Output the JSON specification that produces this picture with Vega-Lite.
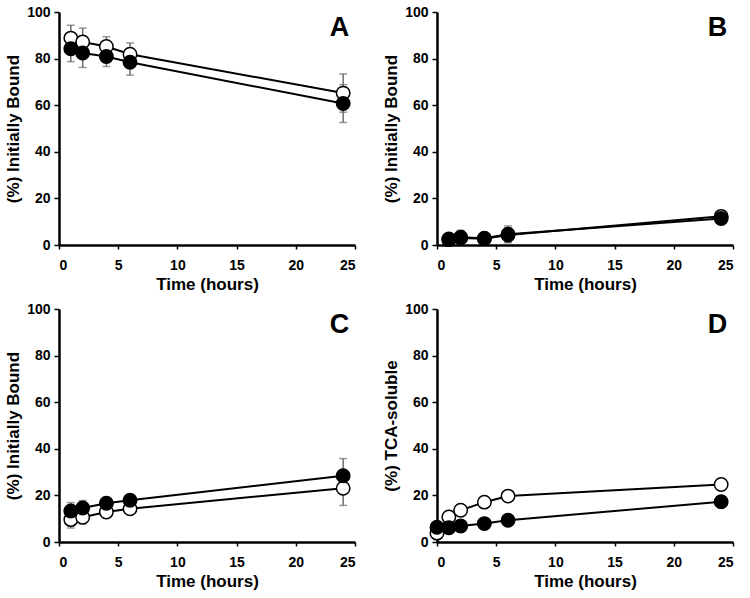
{
  "$schema": "https://vega.github.io/schema/vega-lite/v6.json",
  "padding": {"left": 4, "top": 5, "right": 5, "bottom": 5},
  "background": "white",
  "spacing": 10,
  "config": {
    "font": "Liberation Sans",
    "view": {"stroke": null},
    "axis": {
      "grid": false,
      "domainColor": "black",
      "domainWidth": 2.5,
      "tickColor": "black",
      "tickWidth": 1.5,
      "labelFont": "Liberation Sans",
      "labelFontWeight": "bold",
      "labelFontSize": 14,
      "labelColor": "black",
      "titleFont": "Liberation Sans",
      "titleFontWeight": "bold",
      "titleFontSize": 17,
      "titleColor": "black"
    },
    "axisX": {"tickSize": 4, "labelPadding": 9, "titlePadding": 4},
    "axisY": {"tickSize": 5, "labelPadding": 4, "titlePadding": 4}
  },
  "datasets": {
    "pts": [
      {"panel": "A", "series": "open", "time": 1, "value": 88.8, "err": 5.5},
      {"panel": "A", "series": "open", "time": 2, "value": 87.1, "err": 6},
      {"panel": "A", "series": "open", "time": 4, "value": 85.2, "err": 4.2},
      {"panel": "A", "series": "open", "time": 6, "value": 81.9, "err": 4.8},
      {"panel": "A", "series": "open", "time": 24, "value": 65.2, "err": 8.2},
      {"panel": "A", "series": "filled", "time": 1, "value": 84.2, "err": 5.5},
      {"panel": "A", "series": "filled", "time": 2, "value": 82.4, "err": 6.2},
      {"panel": "A", "series": "filled", "time": 4, "value": 80.9, "err": 4.3},
      {"panel": "A", "series": "filled", "time": 6, "value": 78.4, "err": 5.5},
      {"panel": "A", "series": "filled", "time": 24, "value": 60.7, "err": 8.1},
      {"panel": "B", "series": "open", "time": 1, "value": 2.3, "err": 1},
      {"panel": "B", "series": "open", "time": 2, "value": 3.0, "err": 2.5},
      {"panel": "B", "series": "open", "time": 4, "value": 2.7, "err": 1},
      {"panel": "B", "series": "open", "time": 6, "value": 4.3, "err": 3},
      {"panel": "B", "series": "open", "time": 24, "value": 12.3, "err": 2},
      {"panel": "B", "series": "filled", "time": 1, "value": 2.6, "err": 1},
      {"panel": "B", "series": "filled", "time": 2, "value": 3.3, "err": 3},
      {"panel": "B", "series": "filled", "time": 4, "value": 2.9, "err": 1},
      {"panel": "B", "series": "filled", "time": 6, "value": 4.6, "err": 3.6},
      {"panel": "B", "series": "filled", "time": 24, "value": 11.4, "err": 2.5},
      {"panel": "C", "series": "open", "time": 1, "value": 9.6, "err": 3.6},
      {"panel": "C", "series": "open", "time": 2, "value": 10.6, "err": 2.8},
      {"panel": "C", "series": "open", "time": 4, "value": 12.9, "err": 2},
      {"panel": "C", "series": "open", "time": 6, "value": 14.3, "err": 1.5},
      {"panel": "C", "series": "open", "time": 24, "value": 23.1, "err": 7.4},
      {"panel": "C", "series": "filled", "time": 1, "value": 13.3, "err": 3.6},
      {"panel": "C", "series": "filled", "time": 2, "value": 14.6, "err": 3.2},
      {"panel": "C", "series": "filled", "time": 4, "value": 16.6, "err": 2},
      {"panel": "C", "series": "filled", "time": 6, "value": 17.9, "err": 1.5},
      {"panel": "C", "series": "filled", "time": 24, "value": 28.4, "err": 7.4},
      {"panel": "D", "series": "open", "time": 0, "value": 3.8, "err": 0},
      {"panel": "D", "series": "open", "time": 1, "value": 10.7, "err": 0},
      {"panel": "D", "series": "open", "time": 2, "value": 13.6, "err": 0},
      {"panel": "D", "series": "open", "time": 4, "value": 17.1, "err": 0},
      {"panel": "D", "series": "open", "time": 6, "value": 19.7, "err": 0},
      {"panel": "D", "series": "open", "time": 24, "value": 24.7, "err": 0},
      {"panel": "D", "series": "filled", "time": 0, "value": 6.3, "err": 0},
      {"panel": "D", "series": "filled", "time": 1, "value": 6.1, "err": 0},
      {"panel": "D", "series": "filled", "time": 2, "value": 6.9, "err": 0},
      {"panel": "D", "series": "filled", "time": 4, "value": 7.9, "err": 0},
      {"panel": "D", "series": "filled", "time": 6, "value": 9.3, "err": 0},
      {"panel": "D", "series": "filled", "time": 24, "value": 17.3, "err": 0}
    ]
  },
  "vconcat": [
    {
      "hconcat": [
        {
          "width": 296, "height": 233,
          "data": {"name": "pts"},
          "transform": [{"filter": "datum.panel === 'A'"}],
          "encoding": {
            "x": {"field": "time", "type": "quantitative", "scale": {"domain": [0, 25], "nice": false}, "axis": {"values": [0, 5, 10, 15, 20, 25], "title": "Time (hours)"}},
            "y": {"field": "value", "type": "quantitative", "scale": {"domain": [0, 100], "nice": false}, "axis": {"values": [0, 20, 40, 60, 80, 100], "title": "(%) Initially Bound"}}
          },
          "layer": [
            {"mark": {"type": "errorbar", "color": "#6e6e6e", "thickness": 1.5, "ticks": {"size": 8, "thickness": 1.5, "color": "#6e6e6e"}}, "encoding": {"yError": {"field": "err"}, "detail": {"field": "series"}}},
            {"mark": {"type": "line", "color": "black", "strokeWidth": 2}, "encoding": {"detail": {"field": "series"}}},
            {"mark": {"type": "point", "filled": false, "size": 180, "strokeWidth": 1.5, "stroke": "black", "opacity": 1, "shape": "circle"}, "encoding": {"fill": {"field": "series", "type": "nominal", "scale": {"domain": ["open", "filled"], "range": ["white", "black"]}, "legend": null}}},
            {"transform": [{"filter": "datum.series === 'open' && datum.time === 24"}], "mark": {"type": "text", "fontSize": 27, "fontWeight": "bold", "font": "Liberation Sans", "align": "center", "baseline": "middle", "color": "black"}, "encoding": {"text": {"field": "panel"}, "x": {"datum": 23.7}, "y": {"datum": 93}}}
          ]
        },
        {
          "width": 296, "height": 233,
          "data": {"name": "pts"},
          "transform": [{"filter": "datum.panel === 'B'"}],
          "encoding": {
            "x": {"field": "time", "type": "quantitative", "scale": {"domain": [0, 25], "nice": false}, "axis": {"values": [0, 5, 10, 15, 20, 25], "title": "Time (hours)"}},
            "y": {"field": "value", "type": "quantitative", "scale": {"domain": [0, 100], "nice": false}, "axis": {"values": [0, 20, 40, 60, 80, 100], "title": "(%) Initially Bound"}}
          },
          "layer": [
            {"mark": {"type": "errorbar", "color": "#6e6e6e", "thickness": 1.5, "ticks": {"size": 8, "thickness": 1.5, "color": "#6e6e6e"}}, "encoding": {"yError": {"field": "err"}, "detail": {"field": "series"}}},
            {"mark": {"type": "line", "color": "black", "strokeWidth": 2}, "encoding": {"detail": {"field": "series"}}},
            {"mark": {"type": "point", "filled": false, "size": 180, "strokeWidth": 1.5, "stroke": "black", "opacity": 1, "shape": "circle"}, "encoding": {"fill": {"field": "series", "type": "nominal", "scale": {"domain": ["open", "filled"], "range": ["white", "black"]}, "legend": null}}},
            {"transform": [{"filter": "datum.series === 'open' && datum.time === 24"}], "mark": {"type": "text", "fontSize": 27, "fontWeight": "bold", "font": "Liberation Sans", "align": "center", "baseline": "middle", "color": "black"}, "encoding": {"text": {"field": "panel"}, "x": {"datum": 23.7}, "y": {"datum": 93}}}
          ]
        }
      ],
      "spacing": 26
    },
    {
      "hconcat": [
        {
          "width": 296, "height": 233,
          "data": {"name": "pts"},
          "transform": [{"filter": "datum.panel === 'C'"}],
          "encoding": {
            "x": {"field": "time", "type": "quantitative", "scale": {"domain": [0, 25], "nice": false}, "axis": {"values": [0, 5, 10, 15, 20, 25], "title": "Time (hours)"}},
            "y": {"field": "value", "type": "quantitative", "scale": {"domain": [0, 100], "nice": false}, "axis": {"values": [0, 20, 40, 60, 80, 100], "title": "(%) Initially Bound"}}
          },
          "layer": [
            {"mark": {"type": "errorbar", "color": "#6e6e6e", "thickness": 1.5, "ticks": {"size": 8, "thickness": 1.5, "color": "#6e6e6e"}}, "encoding": {"yError": {"field": "err"}, "detail": {"field": "series"}}},
            {"mark": {"type": "line", "color": "black", "strokeWidth": 2}, "encoding": {"detail": {"field": "series"}}},
            {"mark": {"type": "point", "filled": false, "size": 180, "strokeWidth": 1.5, "stroke": "black", "opacity": 1, "shape": "circle"}, "encoding": {"fill": {"field": "series", "type": "nominal", "scale": {"domain": ["open", "filled"], "range": ["white", "black"]}, "legend": null}}},
            {"transform": [{"filter": "datum.series === 'open' && datum.time === 24"}], "mark": {"type": "text", "fontSize": 27, "fontWeight": "bold", "font": "Liberation Sans", "align": "center", "baseline": "middle", "color": "black"}, "encoding": {"text": {"field": "panel"}, "x": {"datum": 23.7}, "y": {"datum": 93}}}
          ]
        },
        {
          "width": 296, "height": 233,
          "data": {"name": "pts"},
          "transform": [{"filter": "datum.panel === 'D'"}],
          "encoding": {
            "x": {"field": "time", "type": "quantitative", "scale": {"domain": [0, 25], "nice": false}, "axis": {"values": [0, 5, 10, 15, 20, 25], "title": "Time (hours)"}},
            "y": {"field": "value", "type": "quantitative", "scale": {"domain": [0, 100], "nice": false}, "axis": {"values": [0, 20, 40, 60, 80, 100], "title": "(%) TCA-soluble"}}
          },
          "layer": [
            {"mark": {"type": "line", "color": "black", "strokeWidth": 2}, "encoding": {"detail": {"field": "series"}}},
            {"mark": {"type": "point", "filled": false, "size": 180, "strokeWidth": 1.5, "stroke": "black", "opacity": 1, "shape": "circle"}, "encoding": {"fill": {"field": "series", "type": "nominal", "scale": {"domain": ["open", "filled"], "range": ["white", "black"]}, "legend": null}}},
            {"transform": [{"filter": "datum.series === 'open' && datum.time === 24"}], "mark": {"type": "text", "fontSize": 27, "fontWeight": "bold", "font": "Liberation Sans", "align": "center", "baseline": "middle", "color": "black"}, "encoding": {"text": {"field": "panel"}, "x": {"datum": 23.7}, "y": {"datum": 93}}}
          ]
        }
      ],
      "spacing": 26
    }
  ]
}
